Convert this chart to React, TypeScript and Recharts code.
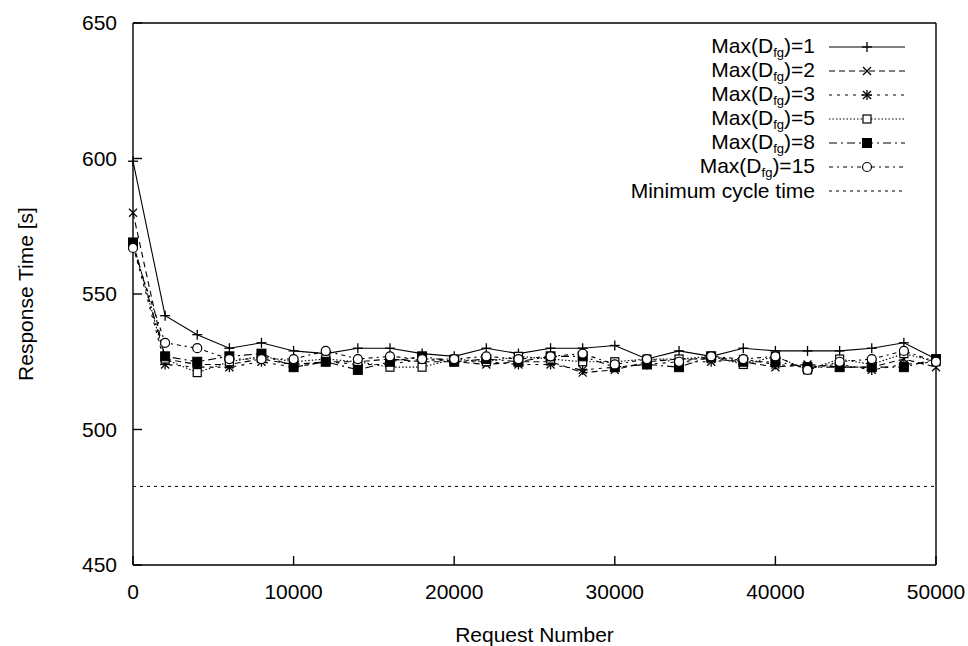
import React from 'react'
import {
  LineChart, Line, XAxis, YAxis, ReferenceLine,
} from 'recharts'

const REQUESTS = [
  0, 2000, 4000, 6000, 8000, 10000, 12000, 14000, 16000, 18000, 20000, 22000, 24000,
  26000, 28000, 30000, 32000, 34000, 36000, 38000, 40000, 42000, 44000, 46000, 48000, 50000,
]
const MAX1  = [599, 542, 535, 530, 532, 529, 528, 530, 530, 528, 527, 530, 528, 530, 530, 531, 526, 529, 527, 530, 529, 529, 529, 530, 532, 526]
const MAX2  = [580, 526, 524, 524, 526, 524, 525, 525, 526, 525, 525, 524, 525, 525, 521, 522, 525, 526, 526, 525, 523, 524, 523, 523, 526, 523]
const MAX3  = [568, 524, 523, 523, 525, 523, 525, 524, 524, 526, 525, 525, 524, 524, 522, 523, 524, 525, 525, 526, 524, 523, 524, 522, 524, 525]
const MAX5  = [569, 526, 521, 525, 527, 525, 526, 525, 523, 523, 526, 525, 527, 526, 525, 525, 526, 526, 527, 524, 527, 522, 526, 524, 528, 525]
const MAX8  = [569, 527, 525, 527, 528, 523, 525, 522, 525, 527, 525, 526, 525, 527, 527, 523, 524, 523, 527, 525, 525, 523, 523, 523, 523, 526]
const MAX15 = [567, 532, 530, 526, 526, 526, 529, 526, 527, 526, 526, 527, 526, 527, 528, 524, 526, 525, 527, 526, 527, 522, 525, 526, 529, 525]
const MIN_CYCLE = 479

const X_TICKS = [0, 10000, 20000, 30000, 40000, 50000]
const Y_TICKS = [450, 500, 550, 600, 650]

const FONT = "'Liberation Sans', Arial, sans-serif"

const data = REQUESTS.map((r, i) => ({
  req: r,
  m1: MAX1[i], m2: MAX2[i], m3: MAX3[i], m5: MAX5[i], m8: MAX8[i], m15: MAX15[i],
}))

type Shape = 'plus' | 'cross' | 'star' | 'square' | 'fsquare' | 'circle' | 'none'

function Marker({ cx, cy, shape }: { cx: number; cy: number; shape: Shape }) {
  const s = 'black'
  if (cx == null || cy == null) return null
  switch (shape) {
    case 'plus':
      return <g stroke={s} strokeWidth={1.3}><line x1={cx - 5} y1={cy} x2={cx + 5} y2={cy} /><line x1={cx} y1={cy - 5} x2={cx} y2={cy + 5} /></g>
    case 'cross':
      return <g stroke={s} strokeWidth={1.3}><line x1={cx - 4} y1={cy - 4} x2={cx + 4} y2={cy + 4} /><line x1={cx - 4} y1={cy + 4} x2={cx + 4} y2={cy - 4} /></g>
    case 'star':
      return (
        <g stroke={s} strokeWidth={1.3}>
          <line x1={cx - 5} y1={cy} x2={cx + 5} y2={cy} /><line x1={cx} y1={cy - 5} x2={cx} y2={cy + 5} />
          <line x1={cx - 4} y1={cy - 4} x2={cx + 4} y2={cy + 4} /><line x1={cx - 4} y1={cy + 4} x2={cx + 4} y2={cy - 4} />
        </g>
      )
    case 'square':
      return <rect x={cx - 4} y={cy - 4} width={8} height={8} fill="white" stroke={s} strokeWidth={1.2} />
    case 'fsquare':
      return <rect x={cx - 4.5} y={cy - 4.5} width={9} height={9} fill={s} stroke={s} />
    case 'circle':
      return <circle cx={cx} cy={cy} r={4.5} fill="white" stroke={s} strokeWidth={1.2} />
    default:
      return null
  }
}

const SERIES: { key: string; n: string; dash: string; shape: Shape }[] = [
  { key: 'm1', n: '1', dash: '', shape: 'plus' },
  { key: 'm2', n: '2', dash: '6 4', shape: 'cross' },
  { key: 'm3', n: '3', dash: '3 5', shape: 'star' },
  { key: 'm5', n: '5', dash: '1.5 2', shape: 'square' },
  { key: 'm8', n: '8', dash: '8 4 2 4', shape: 'fsquare' },
  { key: 'm15', n: '15', dash: '4 4 2 4', shape: 'circle' },
]

function LegendRow({ label, dash, shape }: { label: React.ReactNode; dash: string; shape: Shape }) {
  return (
    <div style={{ display: 'flex', alignItems: 'center', height: 24, justifyContent: 'flex-end' }}>
      <span style={{ whiteSpace: 'nowrap', lineHeight: '20px' }}>{label}</span>
      <svg width={80} height={24} style={{ marginLeft: 12 }}>
        <line x1={2} y1={12} x2={78} y2={12} stroke="black" strokeWidth={1} strokeDasharray={dash || undefined} />
        <Marker cx={40} cy={12} shape={shape} />
      </svg>
    </div>
  )
}

export default function App() {
  return (
    <div style={{ position: 'absolute', left: 0, top: 0, width: 968, height: 646, background: 'white', fontFamily: FONT }}>
      <LineChart width={968} height={646} data={data} margin={{ top: 23, right: 32, bottom: 0, left: 0 }}>
        <XAxis
          dataKey="req" type="number" domain={[0, 50000]} ticks={X_TICKS}
          height={81} tickSize={-9} tickMargin={28}
          stroke="black" strokeWidth={1.4}
          tick={{ fill: 'black', fontSize: 21, fontFamily: FONT }}
          label={{ value: 'Request Number', position: 'insideBottom', offset: 4, fill: 'black', fontSize: 21, fontFamily: FONT }}
        />
        <YAxis
          domain={[450, 650]} ticks={Y_TICKS} width={133} tickSize={-9} tickMargin={25}
          stroke="black" strokeWidth={1.4}
          tick={{ fill: 'black', fontSize: 21, fontFamily: FONT }}
          label={{
            content: ({ viewBox }: any) => (
              <text x={25} y={viewBox.y + viewBox.height / 2} transform={`rotate(-90, 25, ${viewBox.y + viewBox.height / 2})`}
                textAnchor="middle" dominantBaseline="central" fontSize={21} fontFamily={FONT} fill="black">
                Response Time [s]
              </text>
            ),
          }}
        />
        {/* box border like gnuplot */}
        <ReferenceLine y={650} stroke="black" strokeWidth={1.4} />
        <ReferenceLine x={50000} stroke="black" strokeWidth={1.4} />
        <ReferenceLine y={MIN_CYCLE} stroke="black" strokeWidth={1} strokeDasharray="3 4" />
        {SERIES.map((s) => (
          <Line
            key={s.key} dataKey={s.key} type="linear" stroke="black" strokeWidth={1.1}
            strokeDasharray={s.dash || undefined}
            dot={(p: any) => <Marker key={`${s.key}-${p.index}`} cx={p.cx} cy={p.cy} shape={s.shape} />}
            isAnimationActive={false}
          />
        ))}
      </LineChart>
      <div style={{ position: 'absolute', top: 35, right: 61, fontSize: 21, color: 'black' }}>
        {SERIES.map((s) => (
          <LegendRow key={s.key} dash={s.dash} shape={s.shape}
            label={<>Max(D<span style={{ fontSize: 13, position: 'relative', top: 4 }}>fg</span>)={s.n}</>} />
        ))}
        <LegendRow label="Minimum cycle time" dash="3 4" shape="none" />
      </div>
    </div>
  )
}
